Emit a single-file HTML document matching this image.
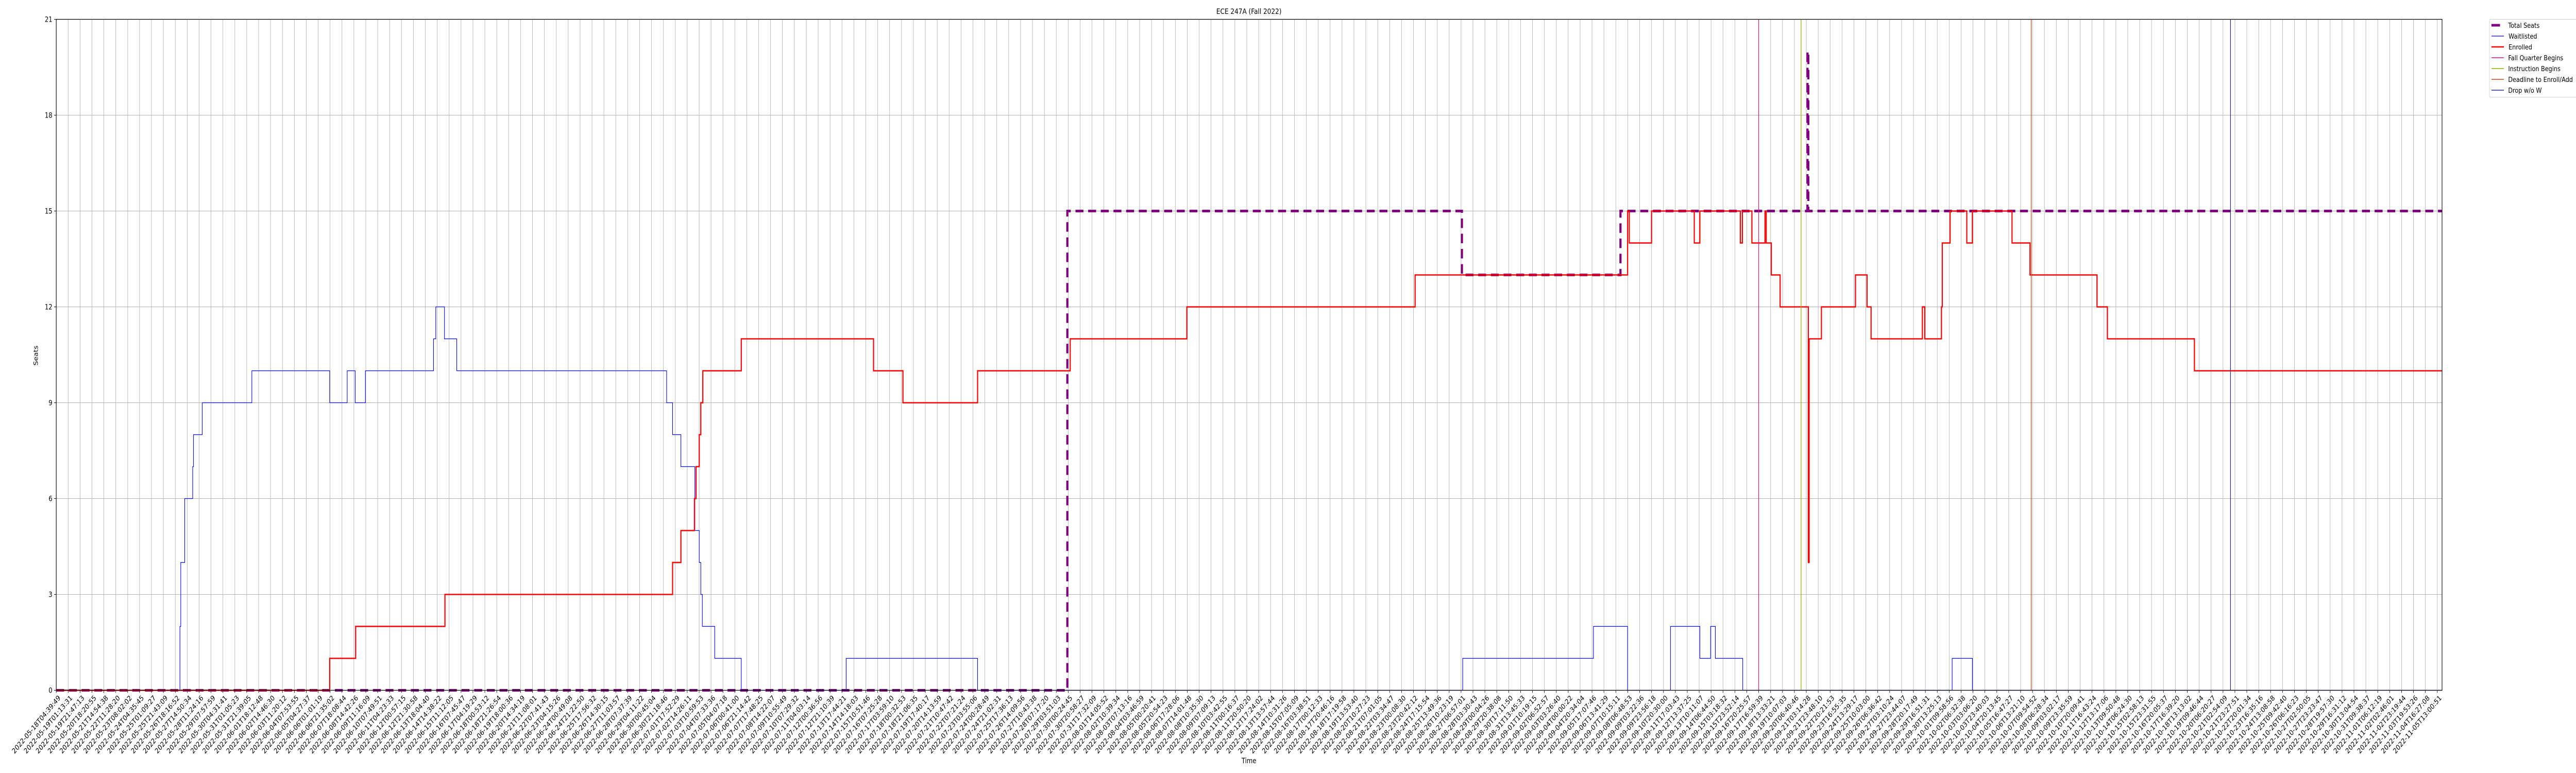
<!DOCTYPE html>
<html><head><meta charset="utf-8"><style>
html,body{margin:0;padding:0;background:#fff;overflow:hidden;width:100%;height:100%;}
svg{display:block;width:100vw;height:100vh;font-family:"DejaVu Sans","Liberation Sans",sans-serif;}
</style></head><body>
<svg id="chart" viewBox="0 0 6000 1500" preserveAspectRatio="none">
<rect x="0" y="0" width="6000" height="1500" fill="#fff"/>
<g id="grid"></g>
<g id="series"></g>
<g id="axes"></g>
<text x="2909" y="27" font-size="14.5" text-anchor="middle">ECE 247A (Fall 2022)</text>
<text x="2909" y="1481" font-size="14" text-anchor="middle">Time</text>
<text x="0" y="0" font-size="14" text-anchor="middle" transform="translate(88,690) rotate(-90)">Seats</text>
<g id="legend">
<rect x="5798.5" y="37.5" width="210" height="151" rx="3" fill="#fff" stroke="#d0d0d0" stroke-width="1"/>
<g><line x1="5803" y1="49" x2="5823" y2="49" stroke="#800080" stroke-width="5"/><text x="5842" y="54" font-size="13.5">Total Seats</text></g>
<g><line x1="5803" y1="70" x2="5832" y2="70" stroke="#0000ff" stroke-width="1.2"/><text x="5843" y="75" font-size="13.5">Waitlisted</text></g>
<g><line x1="5803" y1="91" x2="5832" y2="91" stroke="#ff0000" stroke-width="2.5"/><text x="5843" y="96" font-size="13.5">Enrolled</text></g>
<g><line x1="5803" y1="112" x2="5832" y2="112" stroke="#e0157f" stroke-width="1.5"/><text x="5842" y="117" font-size="13.5">Fall Quarter Begins</text></g>
<g><line x1="5803" y1="133" x2="5832" y2="133" stroke="#8cb300" stroke-width="1.5"/><text x="5842" y="138" font-size="13.5">Instruction Begins</text></g>
<g><line x1="5803" y1="154" x2="5832" y2="154" stroke="#d0461c" stroke-width="1.5"/><text x="5842" y="159" font-size="13.5">Deadline to Enroll/Add</text></g>
<g><line x1="5803" y1="175" x2="5832" y2="175" stroke="#2a2a8c" stroke-width="1.5"/><text x="5842" y="180" font-size="13.5">Drop w/o W</text></g>
</g>
</svg>
<script>
// ---- data (x in tick-index units, step-post) ----
const tickCount = 201;
const tickStart = "2022-05-18T04:39:49";
const tickEnd = "2022-11-05T13:00:51";
const yTicks = [0,3,6,9,12,15,18,21];
const totalX = [0,84.93,118.07,131.39,147.1,147.17];
const totalY = [0,15,13,15,20,15];
const waitX = [0,10.39,10.46,10.79,11.46,11.53,12.26,16.43,22.97,24.44,25.11,25.97,31.69,31.88,32.61,33.64,51.27,51.77,52.47,53.64,54.01,54.14,54.27,55.31,57.54,66.35,77.39,118.14,129.12,131.99,135.59,138.06,138.96,139.36,141.66,159.25,160.95];
const waitY = [0,2,4,6,7,8,9,10,9,10,9,10,11,12,11,10,9,8,7,5,4,3,2,1,0,1,0,1,2,0,2,1,2,1,0,1,0];
const enrX = [0,22.97,25.15,32.65,51.77,52.47,53.61,53.74,54.01,54.14,54.31,57.54,68.65,71.12,77.39,85.17,94.97,114.14,131.99,132.13,134.0,137.59,138.06,141.46,141.63,142.43,143.53,143.63,144.06,144.8,147.17,147.24,148.27,151.13,152.1,152.44,156.75,156.95,158.35,158.42,159.08,160.48,160.95,164.28,165.79,171.42,172.29,179.6];
const enrY = [0,1,2,3,4,5,6,7,8,9,10,11,10,9,10,11,12,13,15,14,15,14,15,14,15,14,15,14,13,12,4,11,12,13,12,11,12,11,12,14,15,14,15,14,13,12,11,10];
const eventNames = ["fall-quarter-begins","instruction-begins","deadline-enroll-add","drop-without-w"];
const eventX = [143.0,146.56,165.89,182.63];
const eventColors = ["#e0157f","#8cb300","#d0461c","#2a2a8c"];
const tickLabels = [];
(function(){
  const s = Date.parse(tickStart+"Z"), e = Date.parse(tickEnd+"Z");
  for (let i=0;i<tickCount;i++){
    const d = new Date(s + (e-s)*i/(tickCount-1));
    tickLabels.push(d.toISOString().slice(0,19));
  }
})();

// ---- layout ----
const L=131, R=5688, T=37.5, B=1339.5, XMAX=200.4, YMAX=21;
const NS="http://www.w3.org/2000/svg";
function xs(v){ return L + v/XMAX*(R-L); }
function ys(v){ return B - v/YMAX*(B-T); }
function mk(tag, attrs, parent){
  const el=document.createElementNS(NS,tag);
  for (const k in attrs) el.setAttribute(k, attrs[k]);
  parent.appendChild(el); return el;
}
const grid=document.getElementById('grid'), series=document.getElementById('series'), axes=document.getElementById('axes');

for (let i=0;i<tickCount;i++){
  const x=xs(i);
  const g=mk('line',{x1:x,y1:T,x2:x,y2:B,stroke:'#b0b0b0','stroke-width':1},grid);
  
  
  const tk=mk('line',{x1:x,y1:B,x2:x,y2:B+5,stroke:'#000','stroke-width':1},axes);
  
  
  const tx=mk('text',{x:x+4,y:B+9,'font-size':14,'text-anchor':'end','dominant-baseline':'hanging',transform:'rotate(-45 '+(x+4)+' '+(B+9)+')'},axes);
  tx.textContent=tickLabels[i];
  
  
}
yTicks.forEach(v=>{
  const y=ys(v);
  const g=mk('line',{x1:L,y1:y,x2:R,y2:y,stroke:'#b0b0b0','stroke-width':1},grid);
  
  
  const tk=mk('line',{x1:L-5,y1:y,x2:L,y2:y,stroke:'#000','stroke-width':1},axes);
  
  
  const tx=mk('text',{x:L-9,y:y+5,'font-size':14,'text-anchor':'end'},axes);
  tx.textContent=String(v);
  
  
});

function stepPath(X,Y){
  let d='M'+xs(X[0])+','+ys(Y[0]);
  for (let i=1;i<X.length;i++){
    d+=' L'+xs(X[i])+','+ys(Y[i-1])+' L'+xs(X[i])+','+ys(Y[i]);
  }
  d+=' L'+xs(XMAX)+','+ys(Y[Y.length-1]);
  return d;
}
const tot=mk('path',{d:stepPath(totalX,totalY),fill:'none',stroke:'#800080','stroke-width':5,'stroke-dasharray':'18.5,11'},series);


const wl=mk('path',{d:stepPath(waitX,waitY),fill:'none',stroke:'#0000ff','stroke-width':1.3},series);


const en=mk('path',{d:stepPath(enrX,enrY),fill:'none',stroke:'#ff0000','stroke-width':2.6},series);


eventX.forEach((v,i)=>{
  const ln=mk('line',{x1:xs(v),y1:T,x2:xs(v),y2:B,stroke:eventColors[i],'stroke-width':1.5},series);
  
  
});
const frame=mk('rect',{x:L,y:T,width:R-L,height:B-T,fill:'none',stroke:'#000','stroke-width':1.3},axes);


</script>
</body></html>
